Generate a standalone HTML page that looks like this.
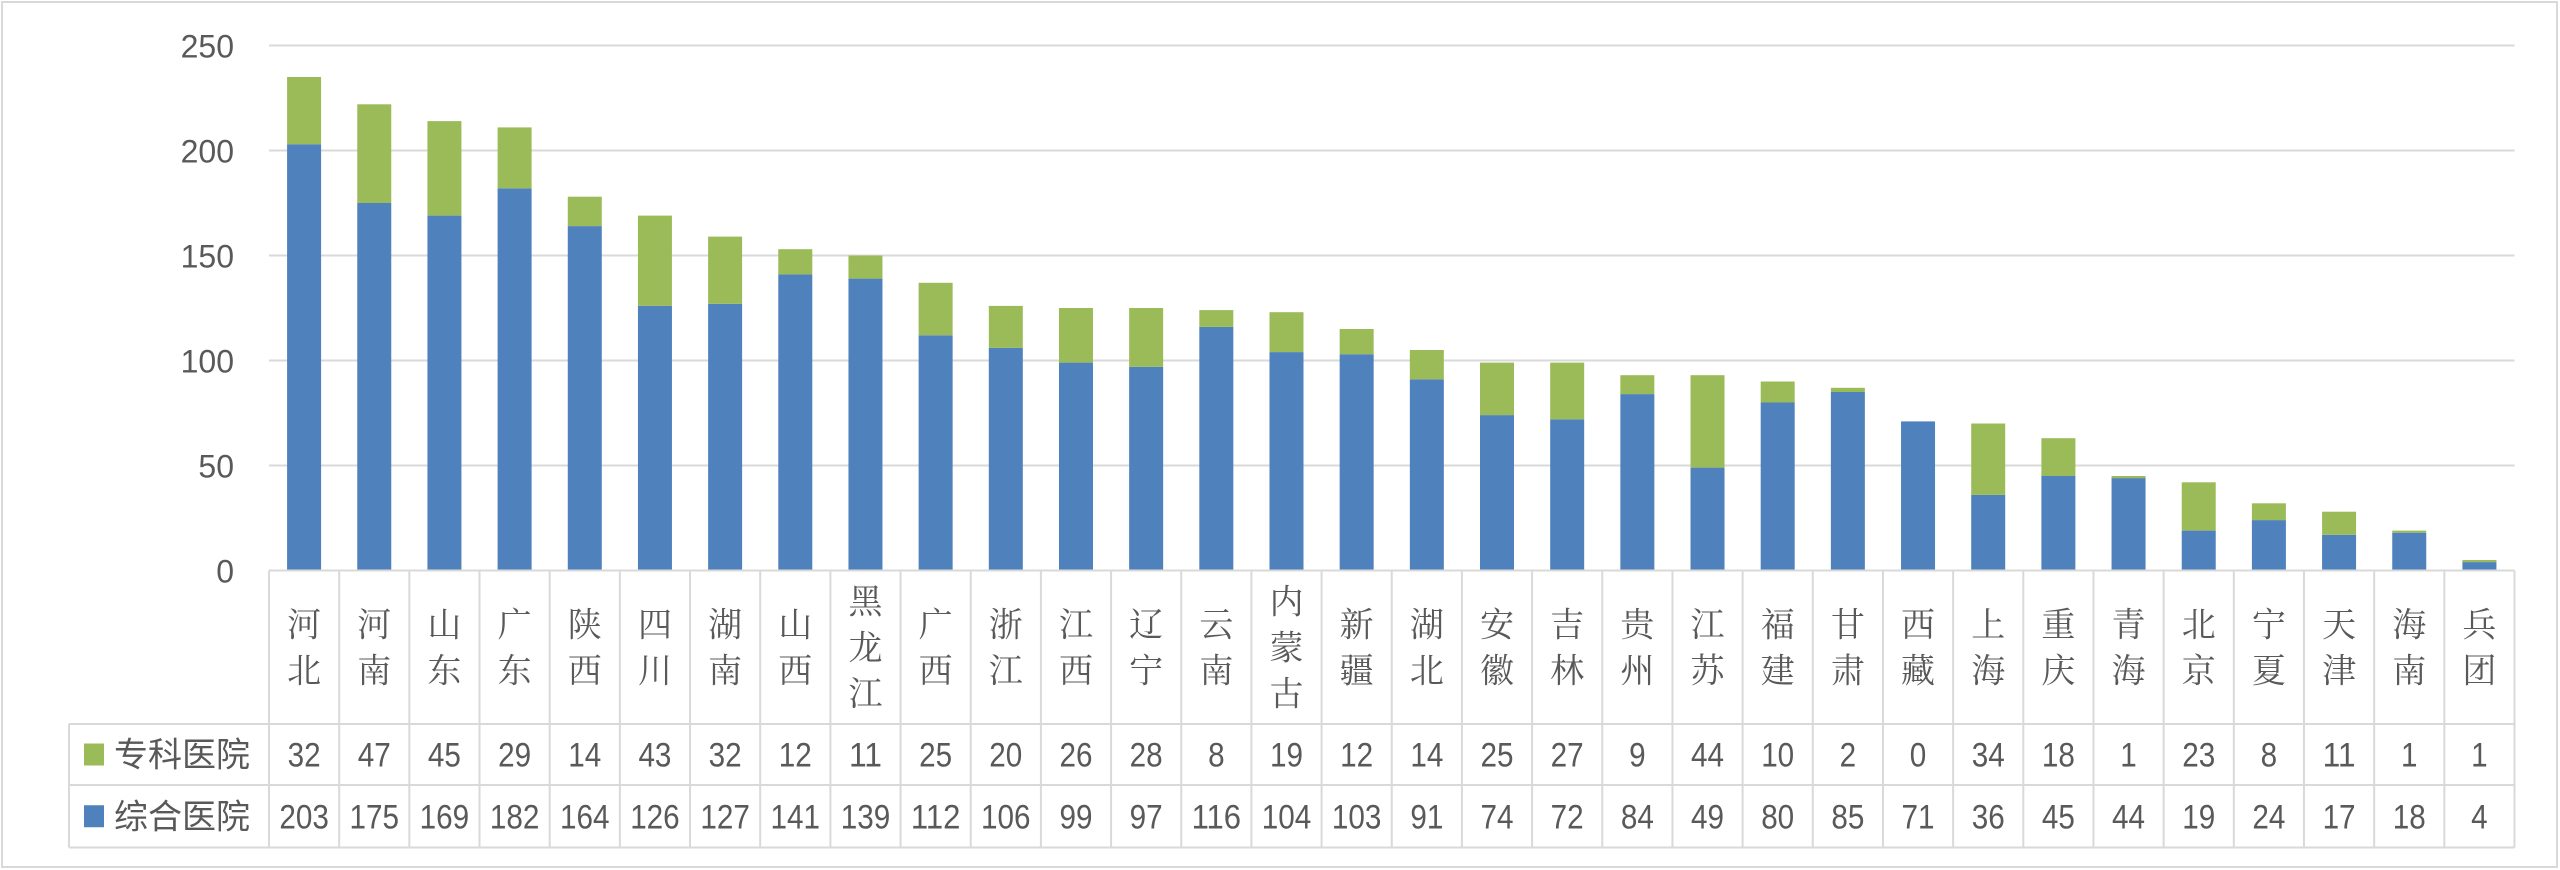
<!DOCTYPE html>
<html><head><meta charset="utf-8"><style>
html,body{margin:0;padding:0;background:#fff;}
svg{display:block;}
</style></head><body>
<svg id="chart" width="2560" height="870" xmlns="http://www.w3.org/2000/svg">
<rect x="2" y="2" width="2555" height="865" fill="#fff" stroke="#d9d9d9" stroke-width="2"/>
<g id="grid"></g>
<g id="yaxis"></g>
<g id="bars"></g>
<g id="table"></g>
</svg>
<script>
const categories = ["河北","河南","山东","广东","陕西","四川","湖南","山西","黑龙江","广西","浙江","江西","辽宁","云南","内蒙古","新疆","湖北","安徽","吉林","贵州","江苏","福建","甘肃","西藏","上海","重庆","青海","北京","宁夏","天津","海南","兵团"];
const specialized = [32,47,45,29,14,43,32,12,11,25,20,26,28,8,19,12,14,25,27,9,44,10,2,0,34,18,1,23,8,11,1,1];
const general = [203,175,169,182,164,126,127,141,139,112,106,99,97,116,104,103,91,74,72,84,49,80,85,71,36,45,44,19,24,17,18,4];
const yTicks = [0,50,100,150,200,250];
const seriesNames = ["专科医院","综合医院"];

const NS = "http://www.w3.org/2000/svg";
const left = 269, right = 2514.5, y0 = 570.5, y250 = 45.5, yMax = 250;
const colW = (right - left) / categories.length;
const barW = 34;
function yScale(v){ return y0 - (v / yMax) * (y0 - y250); }
function xCenter(i){ return left + colW * (i + 0.5); }
function mk(tag, attrs, parent){ const e = document.createElementNS(NS, tag); for (const k in attrs) e.setAttribute(k, attrs[k]); parent.appendChild(e); return e; }

const grid = document.getElementById('grid');
const yaxis = document.getElementById('yaxis');
yTicks.forEach(t => {
  if (t > 0) {
    const l = mk('line', {x1:left, x2:right, y1:yScale(t), y2:yScale(t), stroke:'#d9d9d9', 'stroke-width':2}, grid);
    
    
  }
  const tx = mk('text', {x:234, y:yScale(t) + 12, 'text-anchor':'end', 'font-size':32, fill:'#595959', 'font-family':'Liberation Sans, sans-serif'}, yaxis);
  tx.textContent = t;
  
  
});

const bars = document.getElementById('bars');
categories.forEach((c, i) => {
  const x = xCenter(i) - barW / 2;
  const g = general[i], s = specialized[i];
  const b1 = mk('rect', {x:x, y:yScale(g), width:barW, height:y0 - yScale(g), fill:'#4f81bd'}, bars);
  
  
  const b2 = mk('rect', {x:x, y:yScale(g + s), width:barW, height:yScale(g) - yScale(g + s), fill:'#9bbb59'}, bars);
  
  
});

const table = document.getElementById('table');
const rowCatBottom = 724, row1Bottom = 785, row2Bottom = 847.5, tableLeft = 69;
const lc = '#d9d9d9';
function ln(x1,y1,x2,y2,name){ const l = mk('line',{x1:x1,y1:y1,x2:x2,y2:y2,stroke:lc,'stroke-width':2},table);   }
ln(left, y0, right, y0, 'x-axis-line');
ln(tableLeft, rowCatBottom, right, rowCatBottom, 'table-line-1');
ln(tableLeft, row1Bottom, right, row1Bottom, 'table-line-2');
ln(tableLeft, row2Bottom, right, row2Bottom, 'table-line-3');
ln(tableLeft, rowCatBottom, tableLeft, row2Bottom, 'table-left-border');
for (let i = 0; i <= categories.length; i++) {
  ln(left + colW * i, y0, left + colW * i, row2Bottom, 'table-col-line-' + i);
}
[[specialized,'#9bbb59',(rowCatBottom + row1Bottom) / 2],[general,'#4f81bd',(row1Bottom + row2Bottom) / 2]].forEach((r, k) => {
  const sw = mk('rect',{x:84,y:r[2]-11,width:20,height:22,fill:r[1]},table);
  
  
  const t = mk('text',{x:114,y:r[2]+12,'font-size':34,fill:'#595959','font-family':'Liberation Sans, Noto Sans CJK SC, sans-serif'},table);
  t.textContent = seriesNames[k];
  
  
  r[0].forEach((v, i) => {
    const n = mk('text',{x:xCenter(i),y:r[2]+12,'text-anchor':'middle','font-size':34,fill:'#595959','font-family':'Liberation Sans, sans-serif','textLength':String(v).length*16.5,'lengthAdjust':'spacingAndGlyphs'},table);
    n.textContent = v;
    
    
  });
});
categories.forEach((c, i) => {
  const chars = c.split('');
  const lh = 46, mid = (y0 + rowCatBottom) / 2;
  const start = mid - (chars.length - 1) * lh / 2;
  chars.forEach((ch, j) => {
    const t = mk('text',{x:xCenter(i),y:start + j*lh + 12,'text-anchor':'middle','font-size':34,fill:'#595959','font-family':'Noto Serif CJK SC, serif'},table);
    t.textContent = ch;
    
    
  });
});
</script>
</body></html>
